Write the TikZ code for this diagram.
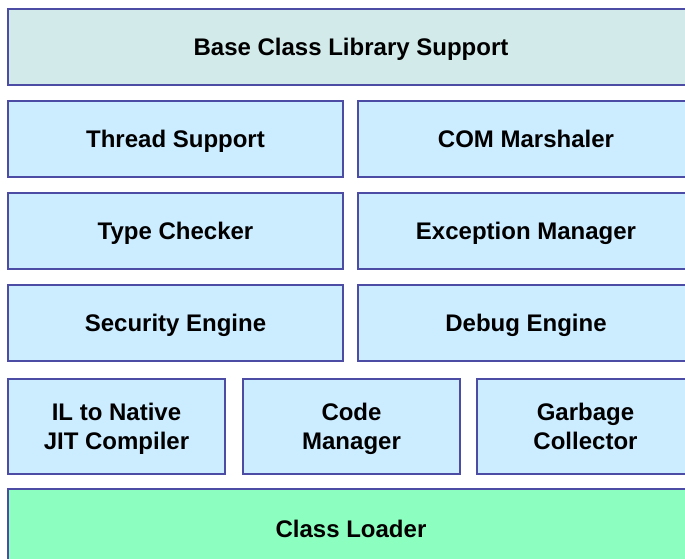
\documentclass[tikz,border=0pt]{standalone}
\usepackage{fontspec}
\setmainfont{Liberation Sans}
\usepackage{xcolor}
\usepackage{tikz}
\usetikzlibrary{shapes,calc}
\definecolor{clrEdge}{RGB}{76,76,164}
\definecolor{clrBase}{RGB}{210,234,234}
\definecolor{clrPart}{RGB}{204,236,255}
\definecolor{clrLoader}{RGB}{140,255,192}
\tikzstyle{tsLargeBold} = [ 
    text=black, 
    font=\bfseries\fontsize{24}{29}\selectfont
]
\tikzstyle{tsWraptext} = [ 
    tsLargeBold, 
    text centered, 
    align=center,
    text height=17.2pt,
    text depth=0pt
]
\tikzstyle{tsTwoLines} = [ 
    text height=46.2pt
]
\tikzstyle{tsRectangle} = [ 
    rectangle,
    tsWraptext,               
    draw=clrEdge,
    line width=2pt,
    inner sep=0pt]

\begin{document}
\begin{tikzpicture}[x=1pt, y=-1pt]

    \useasboundingbox (0,0) rectangle (685,559);
    \clip (0,0) rectangle (685,559);

    \node[ tsRectangle, 
            minimum width=686pt,
            minimum height=76pt,
            fill=clrBase] (bcl) at (351,47) {Base Class Library Support};

    \node[ tsRectangle, 
            minimum width=335pt,
            minimum height=76pt,
            fill=clrPart] (thread) at (175.5,139) {Thread Support};

    \node[ tsRectangle, 
            minimum width=336pt,
            minimum height=76pt,
            fill=clrPart] (com) at (526,139) {COM Marshaler};

    \node[ tsRectangle, 
            minimum width=335pt,
            minimum height=76pt,
            fill=clrPart] (type) at (175.5,231) {Type Checker};

    \node[ tsRectangle, 
            minimum width=336pt,
            minimum height=76pt,
            fill=clrPart] (except) at (526,231) {Exception Manager};

    \node[ tsRectangle, 
            minimum width=335pt,
            minimum height=76pt,
            fill=clrPart] (security) at (175.5,323) {Security Engine};

    \node[ tsRectangle, 
            minimum width=336pt,
            minimum height=76pt,
            fill=clrPart] (debug) at (526,323) {Debug Engine};

    \node[ tsRectangle, tsTwoLines,
            minimum width=217pt,
            minimum height=95pt,
            fill=clrPart] (jit) at (116.5,426.5) {IL to Native\\JIT Compiler};

    \node[ tsRectangle, tsTwoLines,
            minimum width=217pt,
            minimum height=95pt,
            fill=clrPart] (code) at (351.5,426.5) {Code\\Manager};

    \node[ tsRectangle, tsTwoLines,
            minimum width=217pt,
            minimum height=95pt,
            fill=clrPart] (gc) at (585.5,426.5) {Garbage\\Collector};

    \node[ tsRectangle, 
            minimum width=686pt,
            minimum height=80pt,
            fill=clrLoader] (loader) at (351,529) {Class Loader};

\end{tikzpicture}
\end{document}
